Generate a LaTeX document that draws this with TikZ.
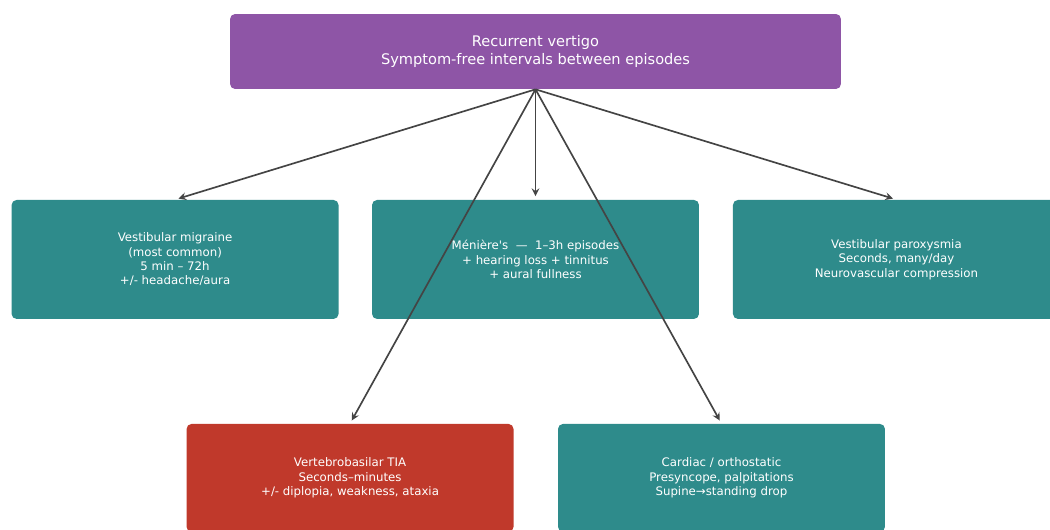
\documentclass[tikz,border=0pt]{standalone}
\usepackage{fontspec}
\setmainfont{DejaVu Sans}
\usepackage{xcolor}
\usetikzlibrary{positioning, arrows}

\definecolor{vpurple}{HTML}{8E55A6}
\definecolor{vteal}{HTML}{2E8B8B}
\definecolor{vred}{HTML}{C0392B}
\definecolor{varrow}{HTML}{444444}

\begin{document}
\begin{tikzpicture} [x = 0.02cm, y = -0.02cm, node distance = 1cm, on grid,
        box/.style = {rectangle, rounded corners = 0.1cm, fill = vteal,
            text = white, align = center, minimum width = 6.54cm,
            minimum height = 2.38cm, font = \fontsize{6.7}{8.2}\selectfont},
        link/.style = {-stealth, varrow, line width = 0.95pt, shorten >= 2pt}]

        \useasboundingbox (0,0) rectangle (1050,530);
        \clip (0,0) rectangle (1050,530);

        \node (top) [box, fill = vpurple, minimum width = 12.22cm, minimum
        height = 1.5cm, font = \fontsize{8.3}{10.2}\selectfont] at (535.5,51.5)
        {Recurrent vertigo\\Symptom-free intervals between episodes};

        \node (meniere) [box, below = 4.16cm of top] {M\'eni\`ere\textquotesingle s
        \ \textemdash\ \ 1--3h episodes\\+ hearing loss + tinnitus\\+ aural
        fullness};
        \node (migraine) [box, left = 7.21cm of meniere] {Vestibular
        migraine\\(most common)\\5 min -- 72h\\+/- headache/aura};
        \node (paroxysmia) [box, right = 7.22cm of meniere] {Vestibular
        paroxysmia\\Seconds, many/day\\Neurovascular compression};

        \node (tia) [box, fill = vred, minimum height = 2.16cm, below = 4.37cm
        of meniere, xshift = -3.71cm] {Vertebrobasilar TIA\\Seconds--minutes\\+/-
        diplopia, weakness, ataxia};
        \node (cardiac) [box, minimum height = 2.16cm, below = 4.37cm of
        meniere, xshift = 3.72cm] {Cardiac / orthostatic\\Presyncope,
        palpitations\\Supine→standing drop};

        \path [link]
            (top.south) edge (migraine.north)
            (top.south) edge (meniere.north)
            (top.south) edge (paroxysmia.north)
            (top.south) edge (tia.north)
            (top.south) edge (cardiac.north);

    \end{tikzpicture}
\end{document}
